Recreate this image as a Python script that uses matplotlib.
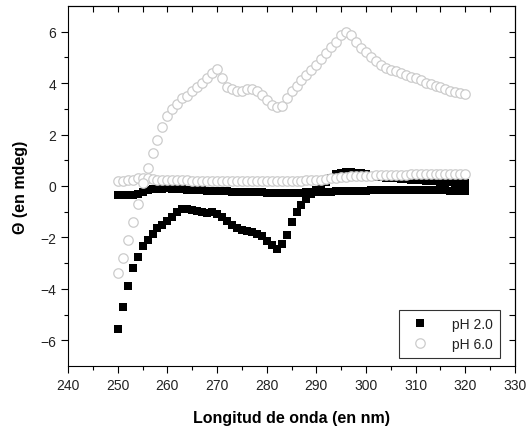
import numpy as np
import matplotlib
matplotlib.use('Agg')
import matplotlib.pyplot as plt

# wavelength grid (nm), one reading per nm
wavelength = np.arange(250, 321)

# pH 2.0 - main spectrum (the deep negative band)
ph2_main = [-5.55, -4.7, -3.9, -3.2, -2.75, -2.35, -2.1, -1.85, -1.65, -1.5,
            -1.35, -1.2, -1.0, -0.9, -0.88, -0.92, -0.97, -1.02, -1.05, -1.03,
            -1.1, -1.2, -1.35, -1.5, -1.62, -1.7, -1.75, -1.8, -1.85, -1.95,
            -2.15, -2.3, -2.45, -2.25, -1.9, -1.4, -1.0, -0.75, -0.5, -0.3,
            -0.15, 0.0, 0.15, 0.3, 0.45, 0.5, 0.55, 0.55, 0.5, 0.5,
            0.45, 0.4, 0.35, 0.33, 0.32, 0.3, 0.3, 0.28, 0.27, 0.25,
            0.24, 0.22, 0.2, 0.2, 0.18, 0.16, 0.15, 0.14, 0.12, 0.11,
            0.1]

# pH 2.0 - second spectrum (near zero)
ph2_base = [-0.35, -0.35, -0.35, -0.35, -0.33, -0.25, -0.15, -0.1, -0.1, -0.1,
            -0.08, -0.1, -0.1, -0.12, -0.15, -0.15, -0.15, -0.17, -0.18, -0.18,
            -0.2, -0.2, -0.2, -0.22, -0.22, -0.22, -0.23, -0.25, -0.25, -0.25,
            -0.27, -0.27, -0.28, -0.28, -0.28, -0.27, -0.27, -0.26, -0.25, -0.25,
            -0.24, -0.23, -0.22, -0.22, -0.2, -0.2, -0.2, -0.2, -0.18, -0.18,
            -0.18, -0.17, -0.17, -0.16, -0.16, -0.16, -0.15, -0.15, -0.15, -0.15,
            -0.15, -0.15, -0.15, -0.16, -0.16, -0.17, -0.17, -0.18, -0.18, -0.18,
            -0.18]

# pH 6.0 - main spectrum (positive band)
ph6_main = [-3.4, -2.8, -2.1, -1.4, -0.7, 0.1, 0.7, 1.3, 1.8, 2.3,
            2.7, 3.0, 3.2, 3.4, 3.5, 3.7, 3.85, 4.0, 4.2, 4.4,
            4.55, 4.2, 3.85, 3.75, 3.7, 3.7, 3.75, 3.75, 3.7, 3.55,
            3.35, 3.15, 3.05, 3.1, 3.4, 3.7, 3.9, 4.1, 4.3, 4.5,
            4.7, 4.95, 5.15, 5.4, 5.6, 5.85, 6.0, 5.85, 5.6, 5.35,
            5.2, 5.0, 4.85, 4.7, 4.6, 4.5, 4.45, 4.4, 4.3, 4.25,
            4.2, 4.1, 4.0, 3.95, 3.9, 3.85, 3.75, 3.7, 3.65, 3.6,
            3.58]

# pH 6.0 - second spectrum (near zero)
ph6_base = [0.2, 0.2, 0.22, 0.25, 0.3, 0.3, 0.32, 0.28, 0.25, 0.25,
            0.24, 0.23, 0.22, 0.22, 0.22, 0.21, 0.2, 0.2, 0.2, 0.2,
            0.2, 0.2, 0.2, 0.2, 0.19, 0.19, 0.19, 0.19, 0.19, 0.18,
            0.18, 0.18, 0.18, 0.18, 0.19, 0.2, 0.2, 0.21, 0.22, 0.22,
            0.23, 0.25, 0.27, 0.29, 0.31, 0.33, 0.35, 0.37, 0.38, 0.39,
            0.4, 0.4, 0.41, 0.42, 0.42, 0.43, 0.43, 0.44, 0.44, 0.45,
            0.45, 0.45, 0.46, 0.46, 0.46, 0.47, 0.47, 0.47, 0.47, 0.47,
            0.47]

plt.rcParams['font.family'] = ['Liberation Sans', 'DejaVu Sans']

fig = plt.figure(figsize=(5.32, 4.31), dpi=100)
ax = fig.add_axes([0.128, 0.1485, 0.840, 0.8355])

sq = dict(marker='s', linestyle='none', markersize=5.5, color='black',
          markeredgewidth=0)
ci = dict(marker='o', linestyle='none', markersize=6.8, markerfacecolor='white',
          markeredgecolor='#cccccc', markeredgewidth=0.9)

ax.plot(wavelength, ph2_base, label='pH 2.0', **sq)
ax.plot(wavelength, ph2_main, **sq)
ax.plot(wavelength, ph6_base, label='pH 6.0', **ci)
ax.plot(wavelength, ph6_main, **ci)

ax.set_xlim(240, 330)
ax.set_ylim(-7, 7)
ax.set_xticks(np.arange(240, 331, 10))
ax.set_xticks(np.arange(245, 330, 10), minor=True)
ax.set_yticks(np.arange(-6, 7, 2))
ax.set_yticks(np.arange(-5, 7, 2), minor=True)
ax.tick_params(which='major', direction='out', length=5, width=0.8,
               labelsize=10, labelcolor='#222222')
ax.tick_params(which='minor', direction='out', length=3, width=0.8)

# inward ticks on top and right, no labels
top = ax.secondary_xaxis('top')
top.set_xticks(np.arange(245, 330, 5))
top.tick_params(direction='in', length=4, width=0.8, labeltop=False)
right = ax.secondary_yaxis('right')
right.set_yticks(np.arange(-6, 7, 1))
right.tick_params(direction='in', length=4, width=0.8, labelright=False)

for s in ax.spines.values():
    s.set_linewidth(0.8)

ax.set_xlabel('Longitud de onda (en nm)', fontsize=11.5, fontweight='bold',
              labelpad=13)
ax.set_ylabel('Θ (en mdeg)', fontsize=11.5, fontweight='bold', labelpad=9)

leg = ax.legend(loc='lower right', bbox_to_anchor=(0.966, 0.022),
                borderaxespad=0, fontsize=10, frameon=True, fancybox=False,
                edgecolor='black', handletextpad=1.3, borderpad=0.5,
                labelspacing=0.45)
leg.get_frame().set_linewidth(0.8)
for t in leg.get_texts():
    t.set_color('#222222')

fig.savefig('out.png', dpi=100)
